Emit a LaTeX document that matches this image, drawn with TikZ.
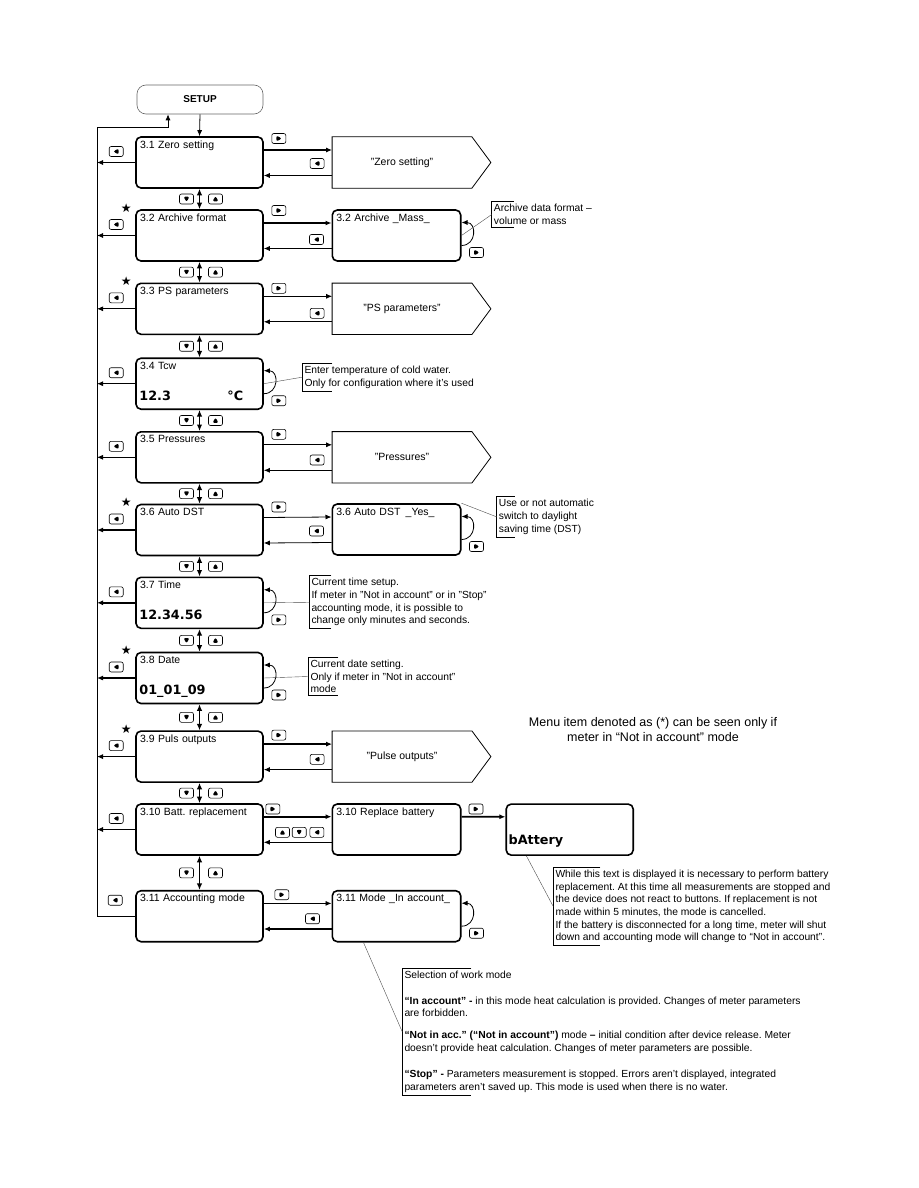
\documentclass[tikz,border=0pt]{standalone}
\usepackage{fontspec}
\setmainfont{Liberation Sans}
\newfontfamily\lcdfont{DejaVu Sans}
\newfontfamily\symfont{DejaVu Sans}
\usetikzlibrary{arrows.meta,positioning,calc}
\frenchspacing

\tikzset{
  lcd/.style={draw,line width=1.6pt,rounded corners=5pt,minimum width=127pt,minimum height=51pt,
    text width=119pt,align=left,text height=8.5pt,text depth=37.5pt,inner xsep=4pt,inner ysep=2.5pt,
    font=\fontsize{10.5}{12}\selectfont},
  rlcd/.style={lcd,minimum width=128.4pt,text width=120.4pt},
  pent/.style={minimum width=139.4pt,minimum height=51pt,inner sep=0pt,font=\fontsize{10.5}{12}\selectfont},
  big/.style={anchor=base west,inner sep=0pt,font=\lcdfont\bfseries\fontsize{12.8}{14}\selectfont},
  note/.style={anchor=north west,align=left,inner xsep=2pt,inner ysep=2.5pt,font=\fontsize{10.3}{12.7}\selectfont},
  leader/.style={line width=0.4pt,draw=black!70},
  starmark/.style={inner sep=0pt,font=\symfont\fontsize{12}{12}\selectfont},
  fwd/.style={-{Latex[length=6pt,width=5pt]},line width=0.8pt},
  fwdb/.style={fwd,line width=1.8pt},
  updown/.style={{Latex[length=6.5pt,width=5.5pt]}-{Latex[length=6.5pt,width=5.5pt]},line width=1.2pt},
  key/.style={draw,line width=0.6pt,rounded corners=2pt,minimum width=14pt,minimum height=10pt,inner sep=0pt},
  kR/.style={key,path picture={\fill ([shift={(-2.4pt,3pt)}]path picture bounding box.center)
    -- ([shift={(3pt,0pt)}]path picture bounding box.center)
    -- ([shift={(-2.4pt,-3pt)}]path picture bounding box.center) -- cycle;}},
  kL/.style={key,path picture={\fill ([shift={(2.4pt,3pt)}]path picture bounding box.center)
    -- ([shift={(-3pt,0pt)}]path picture bounding box.center)
    -- ([shift={(2.4pt,-3pt)}]path picture bounding box.center) -- cycle;}},
  kU/.style={key,path picture={\fill ([shift={(-3pt,-2.4pt)}]path picture bounding box.center)
    -- ([shift={(0pt,3pt)}]path picture bounding box.center)
    -- ([shift={(3pt,-2.4pt)}]path picture bounding box.center) -- cycle;}},
  kD/.style={key,path picture={\fill ([shift={(-3pt,2.4pt)}]path picture bounding box.center)
    -- ([shift={(0pt,-3pt)}]path picture bounding box.center)
    -- ([shift={(3pt,2.4pt)}]path picture bounding box.center) -- cycle;}},
}

\begin{document}
\begin{tikzpicture}[x=1pt,y=-1pt]
  \useasboundingbox (0,0) rectangle (918,1188);

  % Start of the menu
  \node[draw=black!60,line width=0.6pt,rounded corners=9pt,minimum width=126pt,minimum height=29pt,
    font=\bfseries\fontsize{10}{12}\selectfont] (setup) at (200,99.5) {SETUP};

  % Menu items
  \node[lcd] (m31) at (199.5,162.5) {3.1 Zero setting};
  \node[lcd] (m32) at (199.5,235.5) {3.2 Archive format};
  \node[lcd] (m33) at (199.5,308.8) {3.3 PS parameters};
  \node[lcd] (m34) at (199.5,383.7) {3.4 Tcw};
  \node[lcd] (m35) at (199.5,457.3) {3.5 Pressures};
  \node[lcd] (m36) at (199.5,530) {3.6 Auto DST};
  \node[lcd] (m37) at (199.5,602.8) {3.7 Time};
  \node[lcd] (m38) at (199.5,678) {3.8 Date};
  \node[lcd] (m39) at (199.5,756.6) {3.9 Puls outputs};
  \node[lcd] (m310) at (199.5,829.5) {3.10 Batt. replacement};
  \node[lcd] (m311) at (199.5,916.2) {3.11 Accounting mode};

  \node[big] (v34) at ([xshift=4pt,yshift=10pt]m34.south west) {12.3};
  \node[big] (c34) at ([xshift=92pt,yshift=10pt]m34.south west) {°C};
  \node[big] (v37) at ([xshift=4pt,yshift=10pt]m37.south west) {12.34.56};
  \node[big] (v38) at ([xshift=4pt,yshift=10pt]m38.south west) {01\_01\_09};

  % Items seen only when not in account
  \foreach \m in {m32,m33,m36,m38,m39}
    \node[starmark] (s\m) at ([xshift=-9pt,yshift=1.5pt]\m.north west) {★};

  % Sub-menus
  \node[pent] (p31) at (402,162.5) {"Zero setting"};
  \node[pent] (p33) at (402,308.8) {"PS parameters"};
  \node[pent] (p35) at (402,457.3) {"Pressures"};
  \node[pent] (p39) at (402,756.6) {"Pulse outputs"};
  \foreach \p in {p31,p33,p35,p39}
    \draw[line width=0.8pt] (\p.north west) -- (\p.north east) -- ([xshift=19pt]\p.east)
      -- (\p.south east) -- (\p.south west) -- cycle;

  \node[rlcd] (r32) at (396.5,235.5) {3.2 Archive \_Mass\_};
  \node[rlcd] (r36) at (396.5,529.5) {3.6 Auto DST\enspace\_Yes\_};
  \node[rlcd] (r310) at (396.5,829.5) {3.10 Replace battery};
  \node[rlcd] (r311) at (396.5,916.2) {3.11 Mode \_In account\_};
  \node[lcd] (bat) at (569.7,829.6) {};
  \node[big] (vbat) at ([xshift=3pt,yshift=11pt]bat.south west) {bAttery};

  % Return path to SETUP
  \coordinate (spinetop) at (97,127);
  \coordinate (rettop) at (168,127);
  \draw[fwd] (setup.south) -- (m31.north);
  \draw[fwd] (m311.west) -| (spinetop) -- (rettop) -- (rettop |- setup.south);
  \node[kL] (xm311) at ([xshift=-20pt,yshift=16pt]m311.west) {};

  % Exits to the left
  \foreach \m in {m31,m32,m33,m34,m35,m39,m310} {
    \draw[fwd] (\m.west) -- (\m.west -| spinetop);
    \node[kL] (x\m) at ([xshift=-19pt,yshift=11pt]\m.west) {};
  }
  \foreach \m in {m36,m37,m38} {
    \draw[fwdb] (\m.west) -- (\m.west -| spinetop);
    \node[kL] (x\m) at ([xshift=-19pt,yshift=11pt]\m.west) {};
  }

  % Up and down
  \foreach \a/\b in {m31/m32,m32/m33,m33/m34,m34/m35,m35/m36,m36/m37,m37/m38,m38/m39,m39/m310,m310/m311} {
    \draw[updown] (\a.south) -- (\b.north);
    \node[kD] (d\a) at ($(\a.south)!0.5!(\b.north)+(-13,0)$) {};
    \node[kU] (u\a) at ($(\a.south)!0.5!(\b.north)+(16,0)$) {};
  }

  % Into sub-menus and back
  \draw[fwdb] ([yshift=12.5pt]m31.east) -- ([yshift=12.5pt]p31.west);
  \draw[fwd] ([yshift=-13pt]p31.west) -- ([yshift=-13pt]m31.east);
  \node[kR] (km31) at ([xshift=15pt,yshift=24pt]m31.east) {};
  \node[kL] (kp31) at ([xshift=-15pt,yshift=-1pt]p31.west) {};

  \draw[fwdb] ([yshift=12.5pt]m32.east) -- ([yshift=12.5pt]r32.west);
  \draw[fwd] ([yshift=-13pt]r32.west) -- ([yshift=-13pt]m32.east);
  \node[kR] (km32) at ([xshift=15pt,yshift=25pt]m32.east) {};
  \node[kL] (kr32) at ([xshift=-15pt,yshift=-4pt]r32.west) {};

  \draw[fwd] ([yshift=12.5pt]m33.east) -- ([yshift=12.5pt]p33.west);
  \draw[fwd] ([yshift=-13pt]p33.west) -- ([yshift=-13pt]m33.east);
  \node[kR] (km33) at ([xshift=15pt,yshift=20.5pt]m33.east) {};
  \node[kL] (kp33) at ([xshift=-15pt,yshift=-4.5pt]p33.west) {};

  \draw[fwd] ([yshift=12.5pt]m35.east) -- ([yshift=12.5pt]p35.west);
  \draw[fwd] ([yshift=-13pt]p35.west) -- ([yshift=-13pt]m35.east);
  \node[kR] (km35) at ([xshift=15pt,yshift=23pt]m35.east) {};
  \node[kL] (kp35) at ([xshift=-15pt,yshift=-2.7pt]p35.west) {};

  \draw[fwd] ([yshift=12.5pt]m36.east) -- ([yshift=12.5pt]r36.west);
  \draw[fwd] ([yshift=-13pt]r36.west) -- ([yshift=-13pt]m36.east);
  \node[kR] (km36) at ([xshift=15pt,yshift=23pt]m36.east) {};
  \node[kL] (kr36) at ([xshift=-15pt,yshift=-1.5pt]r36.west) {};

  \draw[fwdb] ([yshift=12.5pt]m39.east) -- ([yshift=12.5pt]p39.west);
  \draw[fwd] ([yshift=-13pt]p39.west) -- ([yshift=-13pt]m39.east);
  \node[kR] (km39) at ([xshift=15pt,yshift=21.5pt]m39.east) {};
  \node[kL] (kp39) at ([xshift=-15pt,yshift=-2.7pt]p39.west) {};

  \draw[fwdb] ([yshift=12.8pt]m310.east) -- ([yshift=12.8pt]r310.west);
  \draw[fwd] ([yshift=-12.8pt]r310.west) -- ([yshift=-12.8pt]m310.east);
  \node[kR] (km310) at ([xshift=9pt,yshift=20.5pt]m310.east) {};
  \node[kU] (ku310) at ([xshift=-49pt,yshift=-2.8pt]r310.west) {};
  \node[kD] (kd310) at ([xshift=-32.3pt,yshift=-2.8pt]r310.west) {};
  \node[kL] (kl310) at ([xshift=-14.6pt,yshift=-2.8pt]r310.west) {};
  \draw[fwdb] ([yshift=12.8pt]r310.east) -- ([yshift=12.8pt]bat.west);
  \node[kR] (kr310) at ([xshift=14.5pt,yshift=20.5pt]r310.east) {};

  \draw[fwd] ([yshift=12.8pt]m311.east) -- ([yshift=12.8pt]r311.west);
  \draw[fwdb] ([yshift=-12.8pt]r311.west) -- ([yshift=-12.8pt]m311.east);
  \node[kR] (km311) at ([xshift=18pt,yshift=21.5pt]m311.east) {};
  \node[kL] (kr311) at ([xshift=-19pt,yshift=-2.5pt]r311.west) {};

  % Value changes in place
  \foreach \m in {r32,m34,r36,m37,m38,r311} {
    \draw[fwd] ([yshift=-10pt]\m.east) to[out=0,in=0,looseness=1.7] ([yshift=13pt]\m.east);
    \node[kR] (e\m) at ([xshift=15pt,yshift=-17pt]\m.east) {};
  }

  % Notes
  \node[note] (n32) at (491.7,201.7) {Archive data format --\\volume or mass};
  \node[note] (n34) at (302.3,363.3) {Enter temperature of cold water.\\Only for configuration where it's used};
  \node[note] (n36) at (496.7,496.7) {Use or not automatic\\switch to daylight\\saving time (DST)};
  \node[note] (n37) at (309.3,575.7) {Current time setup.\\If meter in "Not in account" or in "Stop"\\accounting mode, it is possible to\\change only minutes and seconds.};
  \node[note] (n38) at (308.3,657.3) {Current date setting.\\Only if meter in "Not in account"\\mode};
  \node[note] (nbat) at (553.3,867.3) {While this text is displayed it is necessary to perform battery\\
    replacement. At this time all measurements are stopped and\\
    the device does not react to buttons. If replacement is not\\
    made within 5 minutes, the mode is cancelled.\\
    If the battery is disconnected for a long time, meter will shut\\
    down and accounting mode will change to “Not in account”.};
  \node[note] (nmode) at (402.3,968.3) {Selection of work mode\\[13pt]
    \textbf{“In account” -} in this mode heat calculation is provided. Changes of meter parameters\\
    are forbidden.\\[9pt]
    \textbf{“Not in acc.” (“Not in account”)} mode \textbf{--} initial condition after device release. Meter\\
    doesn't provide heat calculation. Changes of meter parameters are possible.\\[14pt]
    \textbf{“Stop” -} Parameters measurement is stopped. Errors aren't displayed, integrated\\
    parameters aren't saved up. This mode is used when there is no water.};
  \foreach \n/\w in {n32/22,n34/30,n36/18,n37/22,n38/30,nbat/47,nmode/69}
    \draw[line width=0.7pt] ([xshift=\w pt]\n.north west) -- (\n.north west) -- (\n.south west) -- ([xshift=\w pt]\n.south west);

  \draw[leader] (r32.east) -- (n32.west);
  \draw[leader] (m34.east) -- (n34.west);
  \draw[leader] (r36.north east) -- (n36.west);
  \draw[leader] (m37.east) -- (n37.west);
  \draw[leader] (m38.east) -- (n38.west);
  \draw[leader] ([xshift=21pt]bat.south west) -- (nbat.west);
  \draw[leader] ([xshift=32pt]r311.south west) -- (nmode.west);

  \node[align=center,font=\fontsize{12.5}{15}\selectfont] (menunote) at (653,730)
    {Menu item denoted as (*) can be seen only if\\meter in “Not in account” mode};
\end{tikzpicture}
\end{document}
